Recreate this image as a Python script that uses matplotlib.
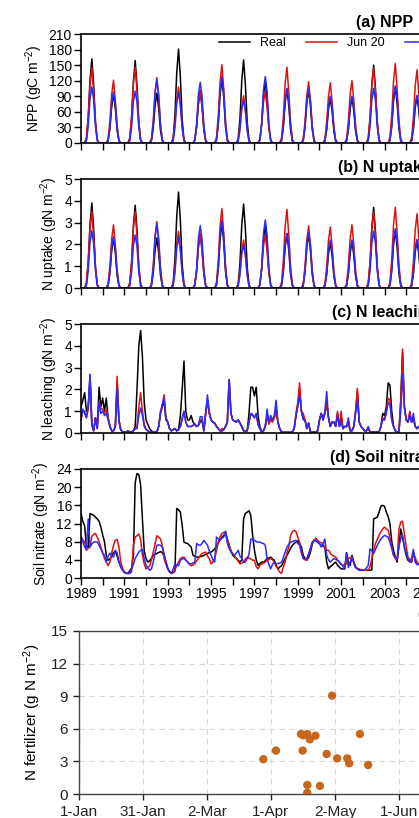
import numpy as np
import matplotlib
matplotlib.use('Agg')
import matplotlib.pyplot as plt

plt.rcParams['font.family'] = ['Liberation Sans', 'DejaVu Sans']
plt.rcParams['mathtext.default'] = 'regular'

W, H = 419, 818

# ---- monthly series 1989-2004, growing season Apr..Oct (other months are 0) ----
npp_real = [
    [8, 49, 122, 162, 113, 41, 6], [5, 29, 71, 95, 67, 24, 4], [8, 48, 119, 159, 111, 40, 6],
    [5, 29, 72, 96, 67, 24, 4], [9, 54, 136, 181, 127, 45, 7], [5, 30, 75, 100, 70, 25, 4],
    [6, 38, 94, 125, 88, 31, 5], [8, 48, 120, 160, 112, 40, 6], [6, 36, 90, 120, 84, 30, 5],
    [5, 31, 78, 104, 73, 26, 4], [5, 31, 77, 103, 72, 26, 4], [4, 26, 65, 87, 61, 22, 3],
    [4, 26, 66, 88, 62, 22, 4], [8, 45, 113, 150, 105, 38, 6], [5, 32, 81, 108, 76, 27, 4],
    [5, 27, 68, 90, 63, 23, 4]]
npp_jun20 = [
    [10, 51, 113, 145, 99, 41, 7], [8, 42, 94, 121, 82, 34, 6], [10, 51, 114, 146, 99, 41, 7],
    [9, 44, 98, 126, 86, 35, 6], [8, 38, 84, 108, 73, 30, 5], [7, 36, 80, 102, 69, 29, 5],
    [11, 53, 118, 151, 103, 42, 8], [6, 32, 71, 91, 62, 25, 5], [7, 35, 78, 100, 68, 28, 5],
    [10, 51, 114, 146, 99, 41, 7], [8, 41, 92, 118, 80, 33, 6], [8, 41, 90, 116, 79, 32, 6],
    [8, 42, 94, 120, 82, 34, 6], [10, 51, 113, 145, 99, 41, 7], [11, 54, 119, 153, 104, 43, 8],
    [10, 49, 110, 141, 96, 39, 7]]
npp_opt = [
    [4, 32, 86, 108, 84, 32, 4], [4, 29, 78, 98, 76, 29, 4], [4, 30, 80, 100, 78, 30, 4],
    [5, 36, 97, 121, 94, 36, 5], [4, 29, 77, 96, 75, 29, 4], [5, 35, 94, 117, 91, 35, 5],
    [5, 38, 102, 128, 100, 38, 5], [3, 25, 66, 82, 64, 25, 3], [5, 38, 102, 128, 100, 38, 5],
    [4, 32, 84, 105, 82, 32, 4], [4, 31, 83, 104, 81, 31, 4], [4, 27, 72, 90, 70, 27, 4],
    [4, 27, 72, 90, 70, 27, 4], [4, 32, 84, 105, 82, 32, 4], [4, 33, 88, 110, 86, 33, 4],
    [4, 28, 74, 92, 72, 28, 4]]

upt_real = [
    [0.20, 1.17, 2.93, 3.90, 2.73, 0.98, 0.16], [0.12, 0.69, 1.73, 2.30, 1.61, 0.58, 0.09],
    [0.19, 1.14, 2.85, 3.80, 2.66, 0.95, 0.15], [0.12, 0.69, 1.73, 2.30, 1.61, 0.58, 0.09],
    [0.22, 1.32, 3.30, 4.40, 3.08, 1.10, 0.18], [0.13, 0.75, 1.88, 2.50, 1.75, 0.63, 0.10],
    [0.15, 0.90, 2.25, 3.00, 2.10, 0.75, 0.12], [0.19, 1.16, 2.89, 3.85, 2.70, 0.96, 0.15],
    [0.15, 0.87, 2.18, 2.90, 2.03, 0.73, 0.12], [0.13, 0.75, 1.88, 2.50, 1.75, 0.63, 0.10],
    [0.12, 0.74, 1.86, 2.48, 1.74, 0.62, 0.10], [0.11, 0.63, 1.58, 2.10, 1.47, 0.53, 0.08],
    [0.11, 0.65, 1.61, 2.15, 1.50, 0.54, 0.09], [0.19, 1.11, 2.78, 3.70, 2.59, 0.93, 0.15],
    [0.13, 0.80, 1.99, 2.65, 1.86, 0.66, 0.11], [0.11, 0.66, 1.65, 2.20, 1.54, 0.55, 0.09]]
upt_jun20 = [
    [0.25, 1.23, 2.73, 3.50, 2.38, 0.98, 0.18], [0.20, 1.02, 2.26, 2.90, 1.97, 0.81, 0.15],
    [0.25, 1.23, 2.73, 3.50, 2.38, 0.98, 0.18], [0.21, 1.07, 2.38, 3.05, 2.07, 0.85, 0.15],
    [0.18, 0.91, 2.03, 2.60, 1.77, 0.73, 0.13], [0.18, 0.88, 1.95, 2.50, 1.70, 0.70, 0.13],
    [0.26, 1.28, 2.85, 3.65, 2.48, 1.02, 0.18], [0.15, 0.77, 1.72, 2.20, 1.50, 0.62, 0.11],
    [0.17, 0.86, 1.91, 2.45, 1.67, 0.69, 0.12], [0.25, 1.26, 2.81, 3.60, 2.45, 1.01, 0.18],
    [0.20, 1.00, 2.22, 2.85, 1.94, 0.80, 0.14], [0.20, 0.98, 2.18, 2.80, 1.90, 0.78, 0.14],
    [0.20, 1.02, 2.26, 2.90, 1.97, 0.81, 0.15], [0.25, 1.23, 2.73, 3.50, 2.38, 0.98, 0.18],
    [0.26, 1.30, 2.89, 3.70, 2.52, 1.04, 0.19], [0.24, 1.19, 2.65, 3.40, 2.31, 0.95, 0.17]]
upt_opt = [
    [0.10, 0.79, 2.10, 2.62, 2.04, 0.79, 0.10], [0.09, 0.71, 1.88, 2.35, 1.83, 0.71, 0.09],
    [0.10, 0.73, 1.94, 2.43, 1.90, 0.73, 0.10], [0.12, 0.88, 2.34, 2.92, 2.28, 0.88, 0.12],
    [0.09, 0.69, 1.85, 2.31, 1.80, 0.69, 0.09], [0.11, 0.86, 2.29, 2.86, 2.23, 0.86, 0.11],
    [0.12, 0.93, 2.48, 3.10, 2.42, 0.93, 0.12], [0.08, 0.59, 1.58, 1.97, 1.54, 0.59, 0.08],
    [0.12, 0.94, 2.50, 3.12, 2.43, 0.94, 0.12], [0.10, 0.75, 2.00, 2.50, 1.95, 0.75, 0.10],
    [0.10, 0.77, 2.04, 2.55, 1.99, 0.77, 0.10], [0.09, 0.66, 1.76, 2.20, 1.72, 0.66, 0.09],
    [0.09, 0.66, 1.76, 2.20, 1.72, 0.66, 0.09], [0.10, 0.78, 2.08, 2.60, 2.03, 0.78, 0.10],
    [0.11, 0.82, 2.18, 2.72, 2.12, 0.82, 0.11], [0.09, 0.67, 1.78, 2.23, 1.74, 0.67, 0.09]]

# ---- full monthly series Jan 1989 .. Dec 2004 ----
leach_real = [
    1.2, 1.5, 1.85, 1.0, 1.2, 2.6, 0.4, 0.1, 0.7, 0.3, 2.1, 1.2,
    1.6, 1.0, 1.6, 0.7, 0.3, 0.1, 0.1, 0.3, 2.3, 0.6, 0.15, 0.05,
    0.05, 0.05, 0.1, 0.05, 0.05, 0.1, 0.3, 2.0, 4.0, 4.7, 3.5, 1.4,
    0.6, 0.4, 0.2, 0.1, 0.05, 0.05, 0.05, 0.3, 0.9, 1.2, 1.5, 0.6,
    0.5, 0.2, 0.1, 0.15, 0.2, 0.1, 0.15, 0.8, 2.0, 3.3, 1.0, 0.6,
    0.6, 0.8, 0.5, 0.4, 0.3, 0.35, 0.5, 0.6, 0.1, 0.9, 1.5, 0.9,
    0.6, 0.5, 0.45, 0.3, 0.2, 0.1, 0.1, 0.15, 0.3, 0.5, 2.45, 0.9,
    0.6, 0.55, 0.5, 0.6, 0.45, 0.3, 0.1, 0.1, 0.1, 0.9, 2.1, 2.1,
    1.7, 2.1, 0.8, 0.3, 0.05, 0.1, 0.3, 0.8, 0.5, 0.6, 0.6, 0.7,
    1.1, 0.5, 0.2, 0.05, 0.03, 0.03, 0.03, 0.03, 0.03, 0.05, 0.2, 0.8,
    1.3, 2.0, 1.0, 0.7, 0.6, 0.2, 0.45, 0.05, 0.05, 0.05, 0.05, 0.1,
    0.6, 0.9, 0.6, 0.9, 1.4, 0.7, 0.3, 0.5, 0.5, 0.3, 0.9, 0.3,
    0.8, 0.2, 0.3, 0.3, 0.5, 0.1, 0.1, 0.3, 1.0, 1.9, 0.5, 0.3,
    0.2, 0.1, 0.1, 0.2, 0.05, 0.05, 0.05, 0.05, 0.05, 0.05, 0.3, 0.9,
    0.8, 1.2, 2.3, 2.2, 1.0, 0.3, 0.1, 0.05, 0.05, 1.5, 3.7, 1.2,
    0.6, 0.5, 0.9, 0.5, 0.7, 0.3, 0.2, 0.3, 0.2, 0.1, 0.1, 0.1]
leach_jun20 = [
    0.6, 1.0, 1.0, 0.7, 1.1, 2.6, 0.4, 0.1, 0.7, 0.2, 1.4, 1.1,
    1.1, 0.9, 1.1, 0.7, 0.3, 0.1, 0.1, 0.3, 2.6, 0.6, 0.15, 0.05,
    0.05, 0.05, 0.1, 0.05, 0.05, 0.1, 0.2, 0.3, 1.2, 1.85, 1.0, 0.4,
    0.2, 0.1, 0.05, 0.05, 0.05, 0.05, 0.05, 0.3, 1.0, 1.3, 1.75, 0.7,
    0.5, 0.2, 0.1, 0.15, 0.2, 0.1, 0.15, 0.3, 0.7, 1.0, 0.5, 0.3,
    0.3, 0.3, 0.35, 0.4, 0.3, 0.35, 0.6, 0.6, 0.1, 0.9, 1.5, 0.9,
    0.6, 0.5, 0.45, 0.3, 0.2, 0.1, 0.2, 0.15, 0.3, 0.5, 2.45, 0.9,
    0.6, 0.55, 0.5, 0.6, 0.45, 0.3, 0.1, 0.1, 0.1, 0.5, 0.85, 0.8,
    0.7, 0.85, 0.4, 0.2, 0.05, 0.1, 0.3, 0.8, 0.4, 0.6, 0.5, 0.7,
    1.0, 0.5, 0.2, 0.05, 0.03, 0.03, 0.03, 0.03, 0.03, 0.05, 0.2, 0.9,
    1.4, 2.3, 1.0, 0.9, 0.6, 0.2, 0.45, 0.05, 0.05, 0.05, 0.05, 0.1,
    0.6, 0.9, 0.6, 0.9, 1.3, 0.7, 0.3, 0.5, 0.5, 0.3, 1.0, 0.3,
    1.0, 0.2, 0.3, 0.3, 0.5, 0.1, 0.1, 0.3, 1.0, 2.05, 0.5, 0.3,
    0.2, 0.1, 0.1, 0.2, 0.05, 0.05, 0.05, 0.05, 0.05, 0.05, 0.3, 0.7,
    0.6, 1.0, 1.6, 1.5, 0.6, 0.3, 0.1, 0.05, 0.05, 1.5, 3.85, 1.2,
    0.6, 0.5, 1.0, 0.5, 0.6, 0.3, 0.2, 0.3, 0.2, 0.1, 0.1, 0.1]
leach_opt = [
    0.6, 1.1, 0.9, 0.7, 1.2, 2.7, 0.4, 0.1, 0.7, 0.2, 1.4, 0.9,
    1.0, 0.8, 0.9, 0.6, 0.3, 0.1, 0.1, 0.3, 2.05, 0.5, 0.15, 0.05,
    0.05, 0.05, 0.1, 0.05, 0.05, 0.1, 0.2, 0.2, 0.8, 1.15, 0.8, 0.3,
    0.15, 0.1, 0.05, 0.05, 0.05, 0.05, 0.05, 0.3, 0.9, 1.3, 1.6, 0.7,
    0.5, 0.2, 0.1, 0.15, 0.2, 0.1, 0.15, 0.3, 0.6, 1.0, 0.5, 0.3,
    0.3, 0.3, 0.35, 0.4, 0.3, 0.35, 0.75, 0.75, 0.1, 0.9, 1.75, 1.0,
    0.6, 0.5, 0.45, 0.3, 0.2, 0.1, 0.1, 0.15, 0.3, 0.5, 2.45, 0.9,
    0.6, 0.55, 0.5, 0.6, 0.45, 0.3, 0.1, 0.1, 0.1, 0.5, 0.9, 0.85,
    0.7, 0.9, 0.4, 0.2, 0.05, 0.1, 0.3, 1.1, 0.5, 0.8, 0.6, 0.8,
    1.5, 0.5, 0.2, 0.05, 0.03, 0.03, 0.03, 0.03, 0.03, 0.05, 0.2, 0.8,
    1.2, 1.75, 1.0, 0.6, 0.6, 0.2, 0.45, 0.05, 0.05, 0.05, 0.05, 0.1,
    0.6, 0.9, 0.6, 1.0, 1.9, 0.7, 0.3, 0.5, 0.5, 0.3, 0.8, 0.3,
    0.5, 0.2, 0.3, 0.3, 0.7, 0.1, 0.1, 0.3, 0.9, 1.5, 0.5, 0.3,
    0.2, 0.1, 0.1, 0.3, 0.05, 0.05, 0.05, 0.05, 0.05, 0.05, 0.3, 0.6,
    0.6, 0.9, 1.4, 1.3, 0.6, 0.3, 0.1, 0.05, 0.05, 1.0, 2.7, 1.2,
    0.6, 0.5, 0.8, 0.5, 0.9, 0.3, 0.2, 0.3, 0.2, 0.1, 0.1, 0.1]

nitrate_real = [
    14.2, 12.5, 11.5, 7.0, 6.8, 14.2, 14.0, 13.8, 13.4, 13.0, 12.5, 11.2,
    9.5, 8.0, 5.0, 3.9, 4.2, 4.8, 5.6, 5.9, 4.8, 3.5, 2.5, 1.8,
    1.3, 1.1, 1.0, 1.6, 2.2, 5.0, 21.0, 23.0, 22.8, 20.5, 13.0, 6.0,
    4.3, 3.5, 3.8, 4.3, 5.0, 5.2, 5.4, 5.6, 5.8, 5.6, 4.8, 3.5,
    2.2, 1.4, 1.0, 1.2, 1.5, 15.3, 15.0, 14.5, 11.6, 7.9, 7.7, 7.6,
    7.2, 6.8, 5.0, 4.8, 4.6, 4.6, 4.7, 4.8, 5.0, 5.2, 5.4, 5.6,
    5.7, 6.0, 6.4, 7.0, 7.8, 8.3, 9.0, 9.4, 9.8, 8.5, 7.2, 6.0,
    5.0, 4.6, 4.3, 3.9, 3.5, 4.0, 13.0, 14.2, 14.5, 14.8, 13.8, 9.4,
    6.1, 4.0, 2.8, 3.2, 3.5, 3.5, 3.8, 4.3, 4.4, 4.6, 4.2, 3.9,
    2.8, 2.0, 2.4, 2.7, 3.5, 4.3, 5.0, 5.7, 6.5, 7.2, 7.6, 7.9,
    8.2, 7.5, 6.8, 5.0, 4.3, 3.9, 4.5, 5.7, 7.5, 8.3, 8.2, 7.9,
    7.5, 7.2, 7.0, 6.8, 3.5, 2.0, 2.5, 2.8, 3.2, 3.5, 2.8, 2.4,
    2.0, 2.0, 2.0, 5.6, 3.5, 2.8, 5.0, 3.5, 2.5, 2.0, 1.8, 1.7,
    1.7, 1.7, 1.7, 1.7, 1.7, 1.8, 13.0, 13.2, 13.4, 14.5, 15.8, 16.0,
    15.8, 14.5, 13.5, 12.0, 8.0, 6.1, 4.5, 3.5, 7.2, 10.8, 9.0, 6.8,
    5.0, 3.9, 3.6, 3.5, 5.7, 4.0, 3.0, 3.0, 3.5, 4.0, 4.5, 4.5]
nitrate_jun20 = [
    9.0, 8.5, 7.9, 6.1, 6.5, 6.8, 9.2, 9.6, 9.8, 9.0, 8.0, 6.8,
    5.5, 4.3, 3.5, 2.7, 3.5, 5.5, 7.2, 8.3, 8.5, 6.8, 3.5, 2.2,
    1.3, 1.1, 1.0, 1.1, 1.3, 7.2, 9.0, 9.3, 9.7, 8.5, 5.0, 3.1,
    2.0, 2.3, 2.7, 4.0, 5.7, 7.5, 9.3, 9.0, 8.6, 7.2, 4.3, 3.0,
    2.0, 1.5, 1.1, 1.4, 1.7, 2.8, 3.5, 4.3, 4.5, 4.6, 4.0, 3.5,
    3.0, 2.7, 2.9, 3.1, 3.8, 4.3, 5.0, 5.4, 5.6, 5.7, 4.8, 4.3,
    3.1, 3.5, 4.3, 6.0, 7.9, 9.0, 9.8, 10.0, 10.2, 8.5, 7.2, 6.0,
    5.4, 4.8, 4.3, 3.7, 3.1, 3.3, 3.5, 4.2, 4.6, 4.4, 4.2, 3.9,
    3.9, 2.5, 2.0, 2.8, 3.1, 3.3, 3.5, 3.9, 4.1, 4.3, 4.0, 3.5,
    2.5, 2.0, 1.3, 1.0, 2.5, 3.5, 5.5, 6.8, 9.4, 10.2, 10.5, 10.2,
    9.0, 7.9, 6.0, 4.3, 4.0, 3.9, 5.0, 6.4, 7.8, 8.3, 8.8, 8.3,
    7.9, 7.8, 7.6, 6.5, 6.1, 6.1, 5.5, 5.0, 4.8, 4.6, 4.0, 3.5,
    3.0, 2.8, 3.0, 3.1, 4.3, 4.5, 4.6, 3.5, 2.3, 2.1, 2.0, 1.8,
    1.7, 1.7, 1.7, 1.7, 2.5, 4.3, 6.0, 7.6, 8.5, 9.4, 10.2, 10.8,
    11.2, 10.8, 10.5, 9.0, 7.0, 5.0, 4.3, 3.9, 10.8, 12.3, 12.5, 9.8,
    7.0, 4.6, 4.0, 3.5, 5.4, 4.5, 3.5, 3.0, 3.5, 4.5, 5.5, 6.0]
nitrate_opt = [
    9.0, 8.0, 6.8, 6.4, 13.0, 6.8, 7.5, 7.9, 8.0, 7.9, 7.2, 6.4,
    5.5, 5.0, 3.5, 4.8, 5.5, 4.8, 4.6, 6.1, 5.5, 3.5, 2.4, 1.7,
    1.2, 1.0, 1.0, 1.0, 2.0, 3.0, 4.3, 5.0, 5.7, 6.1, 6.3, 4.3,
    2.8, 2.3, 1.7, 2.0, 3.5, 5.5, 7.2, 7.3, 7.2, 6.8, 5.4, 3.5,
    2.0, 1.3, 1.0, 2.0, 3.1, 2.8, 2.7, 3.9, 4.2, 4.3, 3.9, 3.5,
    3.2, 3.1, 3.3, 3.5, 7.6, 7.3, 7.2, 7.6, 8.3, 7.8, 7.2, 6.0,
    5.0, 4.0, 3.5, 9.0, 8.6, 8.3, 8.8, 9.0, 10.3, 7.6, 6.5, 5.7,
    5.3, 5.0, 5.5, 6.1, 4.8, 4.3, 3.5, 3.5, 4.3, 5.2, 8.6, 8.5,
    8.3, 8.0, 7.9, 7.9, 7.7, 7.6, 7.2, 4.3, 3.0, 2.0, 3.0, 3.5,
    3.1, 3.2, 3.3, 3.5, 4.5, 5.7, 6.8, 7.4, 7.9, 8.0, 8.2, 8.3,
    7.6, 7.2, 5.5, 4.3, 4.3, 4.3, 5.4, 6.5, 7.9, 8.2, 8.3, 8.0,
    7.6, 6.8, 7.5, 8.6, 5.0, 4.0, 3.5, 3.9, 4.3, 4.1, 3.9, 3.5,
    3.1, 2.5, 2.0, 5.4, 2.3, 3.5, 4.6, 3.2, 2.3, 2.0, 1.7, 1.7,
    1.7, 1.8, 2.2, 2.8, 6.4, 6.0, 5.4, 6.3, 7.2, 7.9, 8.6, 9.0,
    9.4, 9.2, 9.0, 7.9, 6.5, 5.0, 4.6, 4.3, 7.0, 8.6, 9.4, 6.8,
    5.5, 4.3, 3.5, 4.5, 6.3, 3.5, 3.0, 3.0, 3.5, 4.0, 4.5, 5.0]

# ---- panel (e): fertilizer application (day of year from 1-Jan, amount) ----
fert_day = [87.6, 93.6, 105.5, 106.3, 106.6, 108.5, 108.5, 108.5, 109.7, 112.4,
            114.5, 117.7, 120.3, 122.7, 127.5, 128.4, 133.5, 137.4]
fert_amount = [3.2, 4.0, 5.52, 4.0, 5.4, 0.83, 0.12, 5.52, 5.03, 5.37,
               0.74, 3.68, 9.05, 3.28, 3.28, 2.82, 5.52, 2.67]
date_ticks = [0, 30.4, 60.8, 91.2, 121.7, 152.1, 182.5, 212.9, 243.3, 273.8, 304.2, 334.6, 365]
date_labels = ['1-Jan', '31-Jan', '2-Mar', '1-Apr', '2-May', '1-Jun', '1-Jul',
               '31-Jul', '31-Aug', '30-Sep', '31-Oct', '30-Nov', '31-Dec']

series_names = ['Real', 'Jun 20', 'Optimal']
colors = ['#000000', '#E01010', '#2B2BFF']


def season_to_monthly(rows):
    out = np.zeros((len(rows), 12))
    out[:, 3:10] = np.array(rows)
    return out.ravel()


t = 1989 + np.arange(192) / 12.0

fig = plt.figure(figsize=(W / 100, H / 100), dpi=100)


def px_axes(left, top, width, height):
    return fig.add_axes([left / W, 1 - (top + height) / H, width / W, height / H])


panels = [
    ([season_to_monthly(npp_real), season_to_monthly(npp_jun20), season_to_monthly(npp_opt)],
     (0, 210), np.arange(0, 211, 30), 'NPP (gC m$^{-2}$)', '(a) NPP', 34),
    ([season_to_monthly(upt_real), season_to_monthly(upt_jun20), season_to_monthly(upt_opt)],
     (0, 5), np.arange(0, 6), 'N uptake (gN m$^{-2}$)', '(b) N uptake', 179),
    ([leach_real, leach_jun20, leach_opt],
     (0, 5), np.arange(0, 6), 'N leaching (gN m$^{-2}$)', '(c) N leaching', 324),
    ([nitrate_real, nitrate_jun20, nitrate_opt],
     (0, 24), np.arange(0, 25, 4), 'Soil nitrate (gN m$^{-2}$)', '(d) Soil nitrate', 469),
]

years = np.arange(1989, 2018)
for i, (data, ylim, yticks, ylabel, title, top) in enumerate(panels):
    ax = px_axes(81, top, 607, 109)
    for y, c, name in zip(data, colors, series_names):
        ax.plot(t, y, color=c, lw=1.1, label=name)
    ax.set_xlim(1989, 2017)
    ax.set_ylim(ylim)
    ax.set_yticks(yticks)
    ax.set_xticks(years)
    if i == 3:
        ax.set_xticklabels([str(y) if (y - 1989) % 2 == 0 else '' for y in years])
    else:
        ax.set_xticklabels([])
    ax.tick_params(direction='out', length=5, width=1, labelsize=10, pad=1.5)
    ax.set_ylabel(ylabel, fontsize=10, labelpad=3)
    ax.set_title(title, fontsize=11.5, fontweight='bold', pad=5)
    for s in ax.spines.values():
        s.set_linewidth(1.2)
    if i == 0:
        ax.legend(loc='upper left', bbox_to_anchor=(219 / W, 1 - 37 / H),
                  bbox_transform=fig.transFigure, ncol=3, frameon=False,
                  fontsize=9, handlelength=2.5, handletextpad=0.8,
                  columnspacing=1.6, borderpad=0, borderaxespad=0)

# ---- panel (e) ----
ax = px_axes(79, 631, 768, 163)
ax.scatter(fert_day, fert_amount, s=36, color='#C8661C', edgecolors='none', zorder=3)
ax.set_xlim(0, 365)
ax.set_ylim(0, 15)
ax.set_yticks(np.arange(0, 16, 3))
ax.set_xticks(date_ticks)
ax.set_xticklabels(date_labels)
ax.grid(True, ls=(0, (5, 4)), color='#d9d9d9', lw=0.8)
ax.set_axisbelow(True)
ax.tick_params(direction='out', length=4, width=1, labelsize=11, pad=4, colors='#222222')
for s in ax.spines.values():
    s.set_color('#444444')
    s.set_linewidth(1.0)
ax.set_ylabel('N fertilizer (g N m$^{-2}$)', fontsize=11, labelpad=6)
ax.set_title('(e) Fertilizer', fontsize=11.5, fontweight='bold', pad=9)

fig.savefig('out.png', dpi=100)
